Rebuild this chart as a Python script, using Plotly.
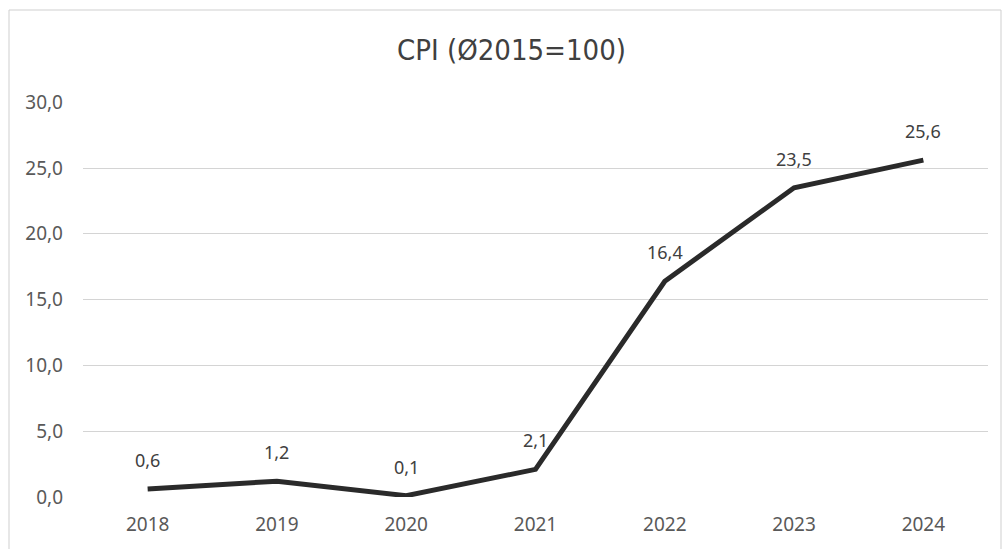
import plotly.graph_objects as go

years = ["2018", "2019", "2020", "2021", "2022", "2023", "2024"]
cpi = [0.6, 1.2, 0.1, 2.1, 16.4, 23.5, 25.6]
labels = ["0,6", "1,2", "0,1", "2,1", "16,4", "23,5", "25,6"]
title = "CPI (Ø2015=100)"

W, H = 1005, 549
L, R, T, B = 83, 17, 102, 52
PW, PH = W - L - R, H - T - B

TXT = "Noto Sans"
fig = go.Figure()
fig.add_trace(go.Scatter(
    x=years, y=cpi, mode="lines",
    line=dict(color="#2a2a2a", width=5),
    cliponaxis=False, hoverinfo="skip",
))
for i, (v, lab) in enumerate(zip(cpi, labels)):
    fig.add_annotation(x=i, y=v, xref="x", yref="y", text=lab, showarrow=False, yshift=29,
                       yanchor="middle", xanchor="center",
                       font=dict(family=TXT, size=18, color="#404040"))

fig.update_layout(
    width=W, height=H,
    margin=dict(l=L, r=R, t=T, b=B),
    paper_bgcolor="white", plot_bgcolor="white",
    separators=",.",
    showlegend=False,
    title=dict(text=title, x=511.5 / W, xanchor="center", y=1 - 50 / H, yanchor="middle",
               font=dict(family="DejaVu Sans Condensed", size=29, color="#404040")),
    xaxis=dict(type="category", range=[-0.5, 6.5], showgrid=False, showline=False, ticks="",
               ticklabelstandoff=14,
               tickfont=dict(family=TXT, size=19, color="#595959")),
    yaxis=dict(range=[0, 30.02], tickvals=[0, 5, 10, 15, 20, 25, 30], tickformat=".1f",
               showgrid=True, gridcolor="#d4d4d4",
               gridwidth=1, zeroline=False, showline=False, ticks="", ticklabelstandoff=19,
               tickfont=dict(family=TXT, size=19, color="#595959")),
)

# chart border
fig.add_shape(type="rect", xref="paper", yref="paper",
              x0=(9 - L) / PW, x1=(1001 - L) / PW,
              y0=-(B + 5) / PH, y1=1 + (T - 10) / PH,
              line=dict(color="#cfcfcf", width=1), layer="below")

fig.write_html("out.html", config={"displayModeBar": False},
               post_script="document.body.style.margin='0';")
